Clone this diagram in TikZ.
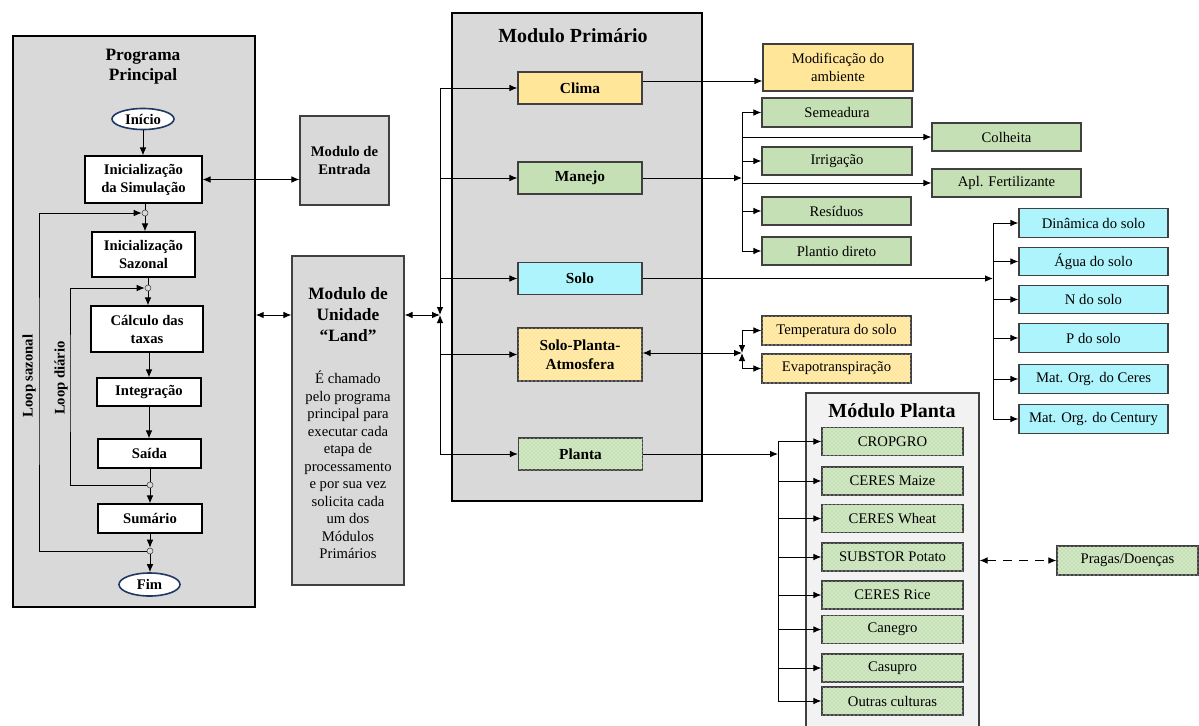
\documentclass[tikz,border=0pt]{standalone}
\usepackage{fontspec}
\setmainfont{Liberation Serif}
\usetikzlibrary{arrows.meta, calc, patterns, shapes.geometric}
\definecolor{panelgray}{HTML}{D9D9D9}
\definecolor{plantgray}{HTML}{F2F2F2}
\definecolor{climayellow}{HTML}{FFE699}
\definecolor{manejogreen}{HTML}{C5E0B4}
\definecolor{solocyan}{HTML}{AEF4FC}
\definecolor{boxline}{HTML}{404040}
\definecolor{termblue}{HTML}{1F3864}

\begin{document}
\begin{tikzpicture}[
  x=0.75pt, y=-0.75pt,
  panel/.style={draw=black, line width=1.1pt, fill=panelgray},
  box/.style={draw=boxline, line width=0.9pt, inner sep=2pt, align=center,
              font=\fontsize{11}{13}\selectfont},
  flow/.style={draw=black, line width=0.8pt, fill=white, inner sep=2pt, align=center,
               font=\fontsize{11}{13.5}\selectfont\bfseries},
  prim/.style={box, minimum width=93pt, minimum height=24pt,
               font=\fontsize{11.5}{14}\selectfont\bfseries},
  term/.style={ellipse, draw=termblue, line width=1.2pt, fill=white, inner sep=0pt,
               font=\fontsize{11}{13}\selectfont\bfseries},
  junc/.style={circle, draw=boxline, fill=panelgray, inner sep=0pt, minimum size=4.5pt},
  dotfill/.style={postaction={pattern=crosshatch dots, pattern color=white}},
  title/.style={align=center, font=\fontsize{15}{18}\selectfont\bfseries},
  arrow/.style={-{Latex[length=6pt,width=5pt]}, line width=0.75pt},
  both/.style={{Latex[length=6pt,width=5pt]}-{Latex[length=6pt,width=5pt]}, line width=0.75pt},
]
  \useasboundingbox (0,0) rectangle (1199,725);

  % Programa principal
  \node[panel, minimum width=181.5pt, minimum height=428.25pt] (prog) at (134,321.5) {};
  \node[align=center, font=\fontsize{13}{15}\selectfont\bfseries] (progtitle) at (143,67) {Programa\\Principal};
  \node[term, minimum width=46.5pt, minimum height=15.75pt] (start) at (143,119) {Início};
  \node[flow, minimum width=87.75pt, minimum height=35.25pt] (initsim) at (143.5,179.5) {Inicialização\\da Simulação};
  \node[junc] (j1) at (145,213) {};
  \node[flow, minimum width=77.25pt, minimum height=33.75pt] (initsaz) at (143.5,254.5) {Inicialização\\Sazonal};
  \node[junc] (j2) at (148,288) {};
  \node[flow, minimum width=84pt, minimum height=34.5pt] (calc) at (147,329) {Cálculo das\\taxas};
  \node[flow, minimum width=78pt, minimum height=21pt] (integ) at (149,392) {Integração};
  \node[flow, minimum width=77.25pt, minimum height=21.75pt] (saida) at (149.5,453.5) {Saída};
  \node[junc] (j3) at (150,485) {};
  \node[flow, minimum width=78pt, minimum height=21.75pt] (sumario) at (150,518.5) {Sumário};
  \node[junc] (j4) at (150,551) {};
  \node[term, minimum width=45.75pt, minimum height=17.25pt] (fim) at (149.5,584.5) {Fim};
  \coordinate (sazx) at (39,380);
  \coordinate (diax) at (70,380);
  \node[rotate=90, font=\fontsize{11}{13}\selectfont\bfseries] (loopsaz) at (29,376) {Loop sazonal};
  \node[rotate=90, font=\fontsize{11}{13}\selectfont\bfseries] (loopdia) at (61,378) {Loop diário};

  % Fluxo do programa
  \draw[arrow] (start) -- (start |- initsim.north);
  \draw[line width=0.75pt] (initsim.south -| j1) -- (j1);
  \draw[arrow] (j1) -- (j1 |- initsaz.north);
  \draw[line width=0.75pt] (initsaz.south -| j2) -- (j2);
  \draw[arrow] (j2) -- (j2 |- calc.north);
  \draw[arrow] (calc.south -| integ) -- (integ.north);
  \draw[arrow] (integ.south) -- (integ.south |- saida.north);
  \draw[line width=0.75pt] (saida.south -| j3) -- (j3);
  \draw[arrow] (j3) -- (j3 |- sumario.north);
  \draw[arrow] (sumario.south -| j4) -- (j4);
  \draw[arrow] (j4) -- (j4 |- fim.north);
  \draw[arrow] (j3.west) -| (diax) |- (j2.west);
  \draw[arrow] (j4.west) -| (sazx) |- (j1.west);

  % Modulos de entrada e Land
  \node[box, fill=panelgray, minimum width=66.75pt, minimum height=66.75pt,
        font=\fontsize{11}{13.5}\selectfont\bfseries] (entrada) at (344.5,160.5) {Modulo de\\Entrada};
  \node[box, fill=panelgray, minimum width=84pt, minimum height=246.75pt] (land) at (348,420.5) {};
  \node[align=center, font=\fontsize{13}{15.75}\selectfont\bfseries] (landtitle) at (348,315)
    {Modulo de\\Unidade\\“Land”};
  \node[align=center, font=\fontsize{11}{13.1}\selectfont] (landtext) at (348,465)
    {É chamado\\pelo programa\\principal para\\executar cada\\etapa de\\processamento\\e por sua vez\\solicita cada\\um dos\\Módulos\\Primários};
  \coordinate (bus) at (440,315);
  \draw[both] (initsim.east) -- (initsim.east -| entrada.west);
  \draw[both] (prog.east |- bus) -- (land.west |- bus);
  \draw[both] (land.east |- bus) -- (bus);

  % Modulo primario
  \node[panel, minimum width=187.5pt, minimum height=366pt] (primario) at (577,257) {};
  \node[title] (primtitle) at (573,36) {Modulo Primário};
  \node[prim, fill=climayellow] (clima) at (580,88) {Clima};
  \node[prim, fill=manejogreen] (manejo) at (580,178) {Manejo};
  \node[prim, fill=solocyan] (solo) at (580,278.5) {Solo};
  \node[prim, fill=climayellow, dotfill, minimum height=39.75pt] (spa) at (580,354.5) {Solo-Planta-\\Atmosfera};
  \node[prim, fill=manejogreen, dotfill] (planta) at (580.5,454) {Planta};
  \draw[both] (clima.west) -| (bus);
  \draw[arrow] (bus |- manejo) -- (manejo.west);
  \draw[arrow] (bus |- solo) -- (solo.west);
  \draw[arrow] (bus |- spa) -- (spa.west);
  \draw[both] (planta.west) -| (bus);

  % Clima
  \node[box, fill=climayellow, minimum width=112.5pt, minimum height=35.25pt] (modif) at (838,67.5)
    {Modificação do\\ambiente};
  \draw[arrow] ([yshift=5.25pt]clima.east) -- ([yshift=5.25pt]clima.east -| modif.west);

  % Manejo
  \node[box, fill=manejogreen, minimum width=112.5pt, minimum height=21.75pt] (semeadura) at (837,112.5) {Semeadura};
  \node[box, fill=manejogreen, minimum width=111.75pt, minimum height=21pt] (colheita) at (1006.5,137) {Colheita};
  \node[box, fill=manejogreen, minimum width=112.5pt, minimum height=21pt] (irrigacao) at (837,161) {Irrigação};
  \node[box, fill=manejogreen, minimum width=111.75pt, minimum height=21pt] (aplfert) at (1006.5,183) {Apl. Fertilizante};
  \node[box, fill=manejogreen, minimum width=111.75pt, minimum height=21pt] (residuos) at (836.5,211) {Resíduos};
  \node[box, fill=manejogreen, minimum width=111.75pt, minimum height=21pt] (plantio) at (836.5,251) {Plantio direto};
  \coordinate (jman) at (742,178);
  \draw[arrow] (manejo.east) -- (jman);
  \draw[line width=0.75pt] (jman |- semeadura) -- (jman |- plantio);
  \draw[arrow] (jman |- semeadura) -- (semeadura.west);
  \draw[arrow] (jman |- colheita) -- (colheita.west);
  \draw[arrow] (jman |- irrigacao) -- (irrigacao.west);
  \draw[arrow] (jman |- aplfert) -- (aplfert.west);
  \draw[arrow] (jman |- residuos) -- (residuos.west);
  \draw[arrow] (jman |- plantio) -- (plantio.west);

  % Solo
  \node[box, fill=solocyan, minimum width=111.75pt, minimum height=21.4pt] (dinamica) at (1093.5,223) {Dinâmica do solo};
  \node[box, fill=solocyan, minimum width=111.75pt, minimum height=21.4pt] (agua) at (1093.5,261.5) {Água do solo};
  \node[box, fill=solocyan, minimum width=111.75pt, minimum height=21.4pt] (nsolo) at (1093.5,299.5) {N do solo};
  \node[box, fill=solocyan, minimum width=111.75pt, minimum height=21.4pt] (psolo) at (1093.5,338) {P do solo};
  \node[box, fill=solocyan, minimum width=111.75pt, minimum height=21.4pt] (ceres) at (1093.5,379) {Mat. Org. do Ceres};
  \node[box, fill=solocyan, minimum width=111.75pt, minimum height=21.4pt] (century) at (1093.5,419) {Mat. Org. do Century};
  \coordinate (jsolo) at (993,278.5);
  \draw[arrow] (solo.east) -- (jsolo);
  \draw[line width=0.75pt] (jsolo |- dinamica) -- (jsolo |- century);
  \draw[arrow] (jsolo |- dinamica) -- (dinamica.west);
  \draw[arrow] (jsolo |- agua) -- (agua.west);
  \draw[arrow] (jsolo |- nsolo) -- (nsolo.west);
  \draw[arrow] (jsolo |- psolo) -- (psolo.west);
  \draw[arrow] (jsolo |- ceres) -- (ceres.west);
  \draw[arrow] (jsolo |- century) -- (century.west);

  % Solo-Planta-Atmosfera
  \node[box, fill=climayellow, dotfill, minimum width=111.75pt, minimum height=21.75pt] (temp) at (836.5,330.5) {Temperatura do solo};
  \node[box, fill=climayellow, dotfill, minimum width=111.75pt, minimum height=21.75pt] (evapo) at (836.5,368.5) {Evapotranspiração};
  \coordinate (jspa) at (742,353);
  \draw[both] (spa.east |- jspa) -- (jspa);
  \draw[both] (jspa) |- (temp.west);
  \draw[both] (jspa) |- (evapo.west);

  % Modulo planta
  \node[draw=boxline, line width=0.9pt, fill=plantgray, minimum width=129.75pt, minimum height=267.75pt] (mplanta) at (892.5,571.5) {};
  \node[title] (mptitle) at (892,411) {Módulo Planta};
  \node[box, fill=manejogreen, dotfill, minimum width=105.75pt, minimum height=21pt] (cropgro) at (892.5,441.5) {CROPGRO};
  \node[box, fill=manejogreen, dotfill, minimum width=105.75pt, minimum height=21pt] (maize) at (892.5,481) {CERES Maize};
  \node[box, fill=manejogreen, dotfill, minimum width=105.75pt, minimum height=21pt] (wheat) at (892.5,518.5) {CERES Wheat};
  \node[box, fill=manejogreen, dotfill, minimum width=105.75pt, minimum height=21pt] (potato) at (892.5,557) {SUBSTOR Potato};
  \node[box, fill=manejogreen, dotfill, minimum width=105.75pt, minimum height=21pt] (rice) at (892.5,595) {CERES Rice};
  \node[box, fill=manejogreen, dotfill, minimum width=105.75pt, minimum height=21pt] (canegro) at (892.5,629.5) {Canegro};
  \node[box, fill=manejogreen, dotfill, minimum width=105.75pt, minimum height=21pt] (casupro) at (892.5,668) {Casupro};
  \node[box, fill=manejogreen, dotfill, minimum width=105.75pt, minimum height=21pt] (outras) at (892.5,701) {Outras culturas};
  \coordinate (jpl) at (778,454);
  \draw[arrow] (planta.east) -- (jpl);
  \draw[line width=0.75pt] (jpl |- cropgro) -- (jpl |- outras);
  \draw[arrow] (jpl |- cropgro) -- (cropgro.west);
  \draw[arrow] (jpl |- maize) -- (maize.west);
  \draw[arrow] (jpl |- wheat) -- (wheat.west);
  \draw[arrow] (jpl |- potato) -- (potato.west);
  \draw[arrow] (jpl |- rice) -- (rice.west);
  \draw[arrow] (jpl |- canegro) -- (canegro.west);
  \draw[arrow] (jpl |- casupro) -- (casupro.west);
  \draw[arrow] (jpl |- outras) -- (outras.west);

  % Pragas
  \node[box, fill=manejogreen, dotfill, minimum width=105.75pt, minimum height=21.75pt] (pragas) at (1127.5,560.5) {Pragas/Doenças};
  \draw[both, dash pattern=on 7pt off 5pt] (mplanta.east |- pragas) -- (pragas.west);
\end{tikzpicture}
\end{document}
